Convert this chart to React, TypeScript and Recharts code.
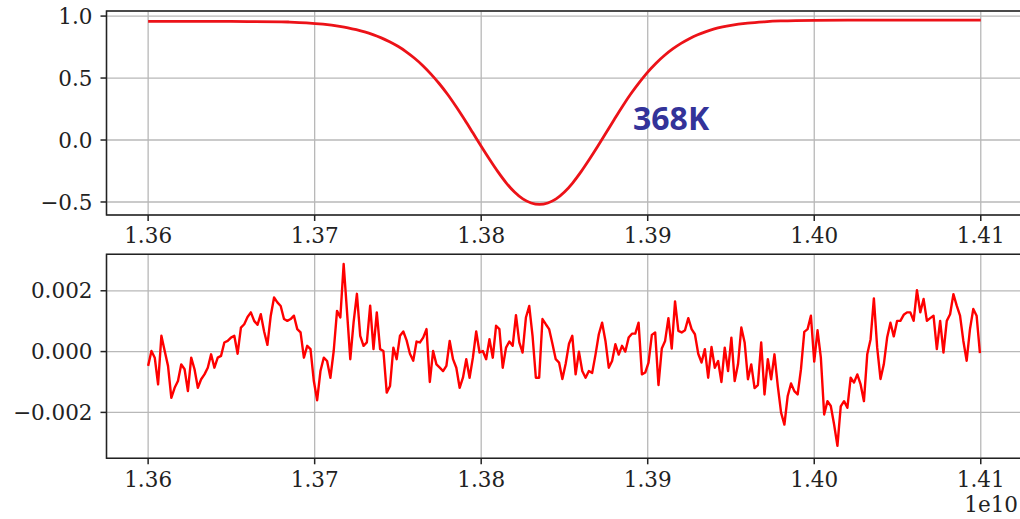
import { LineChart, Line, XAxis, YAxis, CartesianGrid, ReferenceArea } from "recharts";

// frequency axis (units of 1e10)
const freqTicks = [1.36, 1.37, 1.38, 1.39, 1.4, 1.41];
const freqDomain: [number, number] = [1.3575, 1.4125];

// top panel: normalised transmission
const signalTicks = [-0.5, 0, 0.5, 1.0];
const signalDomain: [number, number] = [-0.605, 1.041];
const signalFreq = [
  1.36, 1.362, 1.364, 1.366, 1.368, 1.3685, 1.3695, 1.3705, 1.3715,
  1.372, 1.3725, 1.373, 1.3735, 1.374, 1.3745, 1.375, 1.3755, 1.376, 1.3765,
  1.377, 1.3775, 1.378, 1.3785, 1.379, 1.3795, 1.38, 1.3805, 1.381, 1.3815,
  1.382, 1.3825, 1.383, 1.3835, 1.384, 1.3845, 1.385, 1.3855, 1.386, 1.3865,
  1.387, 1.3875, 1.388, 1.3885, 1.389, 1.3895, 1.39, 1.3905, 1.391, 1.3915,
  1.392, 1.3925, 1.393, 1.3935, 1.394, 1.3945, 1.395,
  1.396, 1.397, 1.398, 1.4, 1.402, 1.405, 1.408, 1.41,
];
const signalValue = [
  0.958, 0.958, 0.957, 0.956, 0.954, 0.952, 0.946, 0.935, 0.917,
  0.905, 0.89, 0.872, 0.85, 0.824, 0.793, 0.756, 0.712, 0.66, 0.6,
  0.53, 0.452, 0.365, 0.268, 0.165, 0.058, -0.05, -0.155, -0.255, -0.345,
  -0.42, -0.475, -0.508, -0.52, -0.508, -0.475, -0.42, -0.345, -0.255, -0.155,
  -0.05, 0.058, 0.168, 0.275, 0.375, 0.465, 0.548, 0.62, 0.682, 0.735,
  0.78, 0.818, 0.85, 0.875, 0.896, 0.912, 0.925,
  0.943, 0.954, 0.961, 0.966, 0.967, 0.968, 0.968, 0.968,
];

const residualTicks = [-0.002, 0, 0.002];
const residualDomain: [number, number] = [-0.00351, 0.0032];
const residualStart = 1.36;
const residualStep = 0.000199;
const residualMilli = [
  -0.47, 0.02, -0.2, -1.08, 0.52, 0.02, -0.47, -1.52, -1.19, -0.97,
  -0.42, -0.58, -1.3, -0.2, -0.58, -1.19, -0.91, -0.75, -0.53, -0.09,
  -0.53, -0.2, -0.14, 0.3, 0.35, 0.46, 0.52, -0.07, 0.79, 0.9,
  1.14, 1.29, 1.01, 0.88, 1.23, 0.66, 0.22, 1.18, 1.78, 1.62,
  1.5, 1.07, 1.01, 1.07, 1.18, 0.74, 0.63, -0.2, 0.19, 0.08,
  -0.97, -1.6, -0.64, -0.2, -0.31, -0.86, 0.02, 1.34, 1.12, 2.88,
  1.34, -0.25, 0.96, 1.9, 0.52, 0.19, 0.3, 1.51, 0.08, 1.29,
  0.08, 0.02, -1.35, -1.13, 0.13, -0.25, 0.52, 0.66, 0.37, -0.07,
  -0.3, 0.33, 0.3, 0.46, 0.74, -1.0, 0.02, -0.42, -0.53, -0.64,
  -0.47, 0.35, -0.25, -0.53, -1.19, -0.86, -0.25, -0.86, -0.2, 0.66,
  -0.03, 0.02, -0.25, 0.41, -0.2, 0.85, 0.74, -0.53, 0.13, 0.33,
  0.19, 1.2, 0.3, -0.03, 1.12, 1.5, 0.52, -0.86, -0.86, 1.07,
  0.9, 0.74, 0.26, -0.25, -0.36, -0.9, -0.4, 0.26, 0.52, -0.75,
  0, -0.64, -0.86, -0.64, -0.7, -0.1, 0.57, 0.95, 0.35, -0.53,
  -0.31, 0.24, -0.1, 0.19, 0, 0.46, 0.59, 0.59, 0.95, -0.75,
  -0.69, -0.36, 0.55, 0.63, -1.1, 0.1, 0.35, 1.1, 0.1, 1.65,
  0.68, 0.63, 0.7, 1.1, 0.74, 0.57, -0.07, -0.36, 0.08, -0.86,
  0.15, -0.53, -0.31, -1.0, 0.13, -0.64, 0.46, -0.97, -0.42, 0.79,
  0.3, -0.91, -0.42, -1.2, -1.1, 0.3, -1.41, -0.25, -0.91, -0.09,
  -1.13, -2.01, -2.4, -1.46, -1.05, -1.3, -1.41, -0.58, 0.65, 0.74,
  1.18, -0.33, 0.7, -0.2, -2.07, -1.63, -1.79, -2.4, -3.1, -1.8,
  -1.63, -1.85, -0.86, -1.02, -0.75, -1.08, -1.63, -0.09, 0.4, 1.75,
  0.13, -0.9, -0.42, 0.46, 0.95, 0.5, 1.01, 1.01, 1.21, 1.29,
  1.29, 1.01, 2.02, 1.29, 1.73, 1.01, 1.1, 1.18, 0.08, 1.01,
  -0.03, 1.01, 1.23, 1.89, 1.51, 1.18, 0.35, -0.3, 0.74, 1.4,
  1.18, -0.05,
];

const signalData = signalFreq.map((x, i) => ({ x, y: signalValue[i] }));
const residualData = residualMilli.map((v, i) => ({ x: residualStart + i * residualStep, y: v / 1000 }));

const tickFont = { fontFamily: "DejaVu Serif", fontSize: 21.5, fill: "#222" };
const tickLine = { stroke: "#222", strokeWidth: 1.5 };
const fmt = (digits: number) => (v: number) => (v < 0 ? "\u2212" : "") + Math.abs(v).toFixed(digits);

const CHART_W = 1024;
const AXIS_W = 106.5;

function Panel({
  data, height, top, axisHeight, yDomain, yTicks, yDigits, color, curve, lineWidth,
}: {
  data: { x: number; y: number }[];
  height: number;
  top: number;
  axisHeight: number;
  yDomain: [number, number];
  yTicks: number[];
  yDigits: number;
  color: string;
  curve: "monotone" | "linear";
  lineWidth: number;
}) {
  return (
    <LineChart width={CHART_W} height={height} data={data} margin={{ top, right: 1.6, bottom: 0, left: 0 }}>
      <CartesianGrid stroke="#b8b8b8" strokeWidth={1.3} />
      <XAxis
        dataKey="x"
        type="number"
        domain={freqDomain}
        ticks={freqTicks}
        allowDataOverflow
        height={axisHeight}
        tick={tickFont}
        tickLine={tickLine}
        tickSize={6}
        tickMargin={7}
        axisLine={false}
        tickFormatter={fmt(2)}
      />
      <YAxis
        type="number"
        domain={yDomain}
        ticks={yTicks}
        allowDataOverflow
        width={AXIS_W}
        tick={tickFont}
        tickLine={tickLine}
        tickSize={6}
        tickMargin={8}
        axisLine={false}
        tickFormatter={fmt(yDigits)}
      />
      <Line type={curve} dataKey="y" stroke={color} strokeWidth={lineWidth} strokeLinejoin="round" dot={false} isAnimationActive={false} />
      <ReferenceArea
        x1={freqDomain[0]}
        x2={freqDomain[1]}
        y1={yDomain[0]}
        y2={yDomain[1]}
        fill="none"
        stroke="#222"
        strokeWidth={1.5}
        ifOverflow="visible"
      />
    </LineChart>
  );
}

export default function App() {
  return (
    <div style={{ position: "absolute", left: 0, top: 0, width: 1020, height: 519, overflow: "hidden", background: "#fff" }}>
      <div style={{ position: "absolute", left: 0, top: 0 }}>
        <Panel data={signalData} height={250} top={11} axisHeight={35} yDomain={signalDomain} yTicks={signalTicks} yDigits={1} color="#ec1218" curve="monotone" lineWidth={2.8} />
      </div>
      <div style={{ position: "absolute", left: 0, top: 250 }}>
        <Panel data={residualData} height={269} top={4.3} axisHeight={60.7} yDomain={residualDomain} yTicks={residualTicks} yDigits={3} color="#ff0000" curve="linear" lineWidth={2.4} />
      </div>
      <svg width={1020} height={519} style={{ position: "absolute", left: 0, top: 0, pointerEvents: "none" }}>
        <text x={633} y={130} fontFamily="Open Sans" fontWeight={700} fontSize={32} fill="#333399">368K</text>
        <text x={1018} y={512} textAnchor="end" fontFamily="DejaVu Serif" fontSize={21.5} fill="#222">1e10</text>
      </svg>
    </div>
  );
}
